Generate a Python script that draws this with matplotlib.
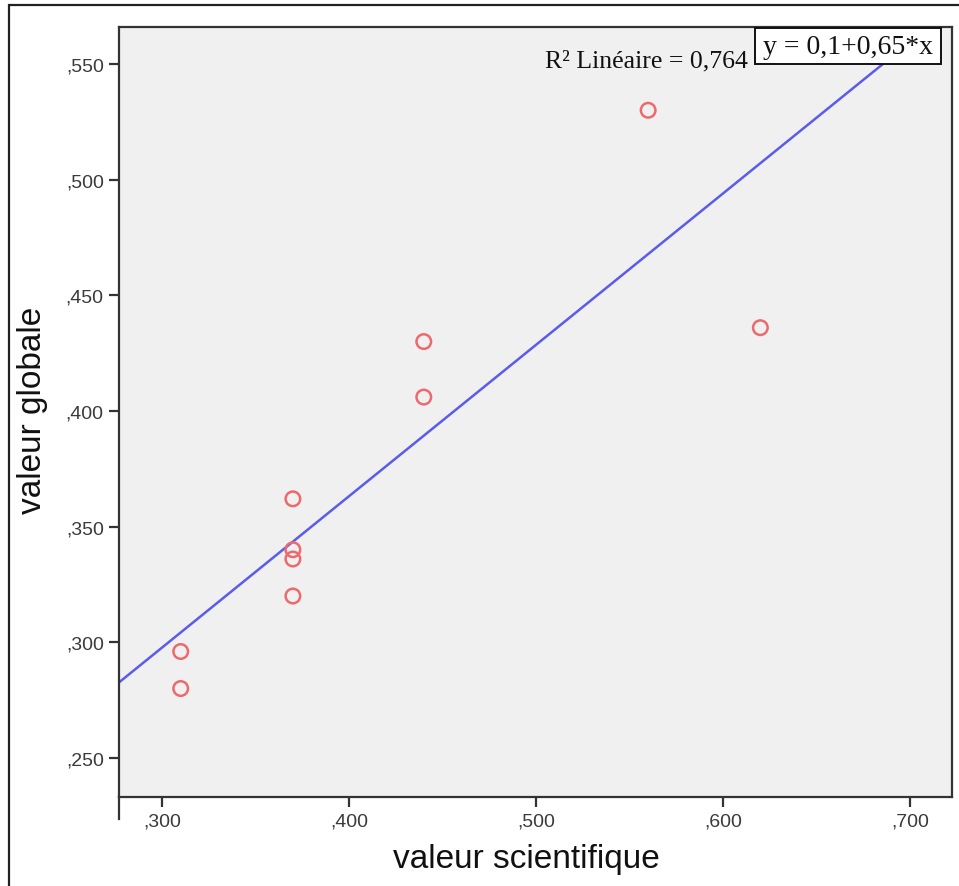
import numpy as np
import matplotlib
matplotlib.use("Agg")
import matplotlib.pyplot as plt
from matplotlib.patches import Rectangle
from matplotlib.lines import Line2D
from matplotlib.ticker import FuncFormatter

# data
valeur_scientifique = [0.31, 0.31, 0.37, 0.37, 0.37, 0.37, 0.44, 0.44, 0.56, 0.62]
valeur_globale = [0.296, 0.280, 0.362, 0.340, 0.336, 0.320, 0.430, 0.406, 0.530, 0.436]
x_ticks = [0.3, 0.4, 0.5, 0.6, 0.7]
y_ticks = [0.25, 0.30, 0.35, 0.40, 0.45, 0.50, 0.55]
r2_label = "R² Linéaire = 0,764"
eq_label = "y = 0,1+0,65*x"

W, H = 959, 887
fig = plt.figure(figsize=(W / 100, H / 100), dpi=100)
fig.patch.set_facecolor("white")

def fx(px):
    return px / W

def fy(py):
    return 1 - py / H

ax = fig.add_axes([fx(119), fy(798), fx(952) - fx(119), fy(28) - fy(798)])
ax.set_facecolor("#f0f0f0")
ax.set_xlim(0.277, 0.7225)
ax.set_ylim(0.2331, 0.566)

x = np.array(valeur_scientifique)
y = np.array(valeur_globale)
slope, intercept = np.polyfit(x, y, 1)
xl = np.array(ax.get_xlim())
ax.plot(xl, intercept + slope * xl, color="#5b5bec", lw=1.8, zorder=2)

ax.scatter(x, y, s=110, facecolors="none", edgecolors="#ec6a6e", linewidths=1.8, zorder=3)

fmt = FuncFormatter(lambda v, p: ("%.3f" % v).replace("0.", ","))
ax.set_xticks(x_ticks)
ax.set_yticks(y_ticks)
ax.xaxis.set_major_formatter(fmt)
ax.yaxis.set_major_formatter(fmt)
ax.tick_params(axis="both", direction="out", length=7, width=1.6, color="#333333",
               labelsize=14, labelcolor="#3a3a3a")
ax.tick_params(axis="x", pad=4)
ax.tick_params(axis="y", pad=4)
for lab in ax.get_xticklabels() + ax.get_yticklabels():
    lab.set_fontfamily("Liberation Sans")

for sp in ax.spines.values():
    sp.set_color("#333333")
    sp.set_linewidth(1.6)

# extension of left axis line below the plot
ax.add_line(Line2D([0, 0], [0, -22 / 770], transform=ax.transAxes, color="#333333",
                   lw=1.6, clip_on=False))

fig.text(fx(526), fy(860), "valeur scientifique", fontsize=24,
         fontfamily="Liberation Sans", color="#111111", ha="center", va="center")
fig.text(fx(33), fy(410), "valeur globale", rotation=90, fontsize=24,
         fontfamily="Liberation Sans", color="#111111", ha="center", va="center")

# R2 text
fig.text(fx(748), fy(61), r2_label, fontsize=18.5, fontfamily="Liberation Serif",
         color="#111111", ha="right", va="center")

# equation box
fig.patches.append(Rectangle((fx(755), fy(65)), fx(941) - fx(755), fy(29) - fy(65),
                             transform=fig.transFigure, facecolor="white",
                             edgecolor="#111111", lw=1.4, zorder=5))
fig.text(fx(848), fy(47), eq_label, fontsize=20, fontfamily="Liberation Serif",
         color="#111111", ha="center", va="center", zorder=6)

# outer border
fig.patches.append(Rectangle((fx(9), fy(1000)), 1.2, fy(6) - fy(1000),
                             transform=fig.transFigure, facecolor="none",
                             edgecolor="#222222", lw=1.6, zorder=0))

fig.savefig("out.png", dpi=100)
